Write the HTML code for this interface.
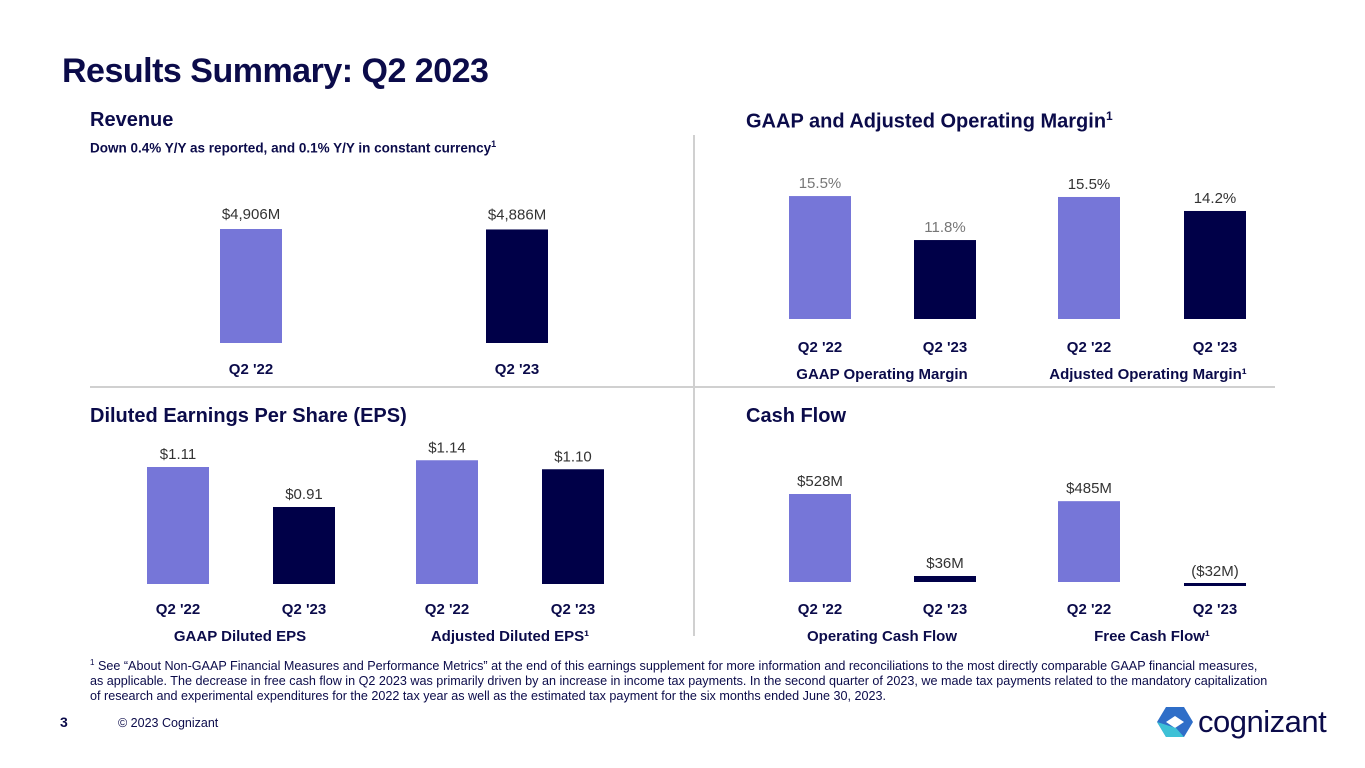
<!DOCTYPE html>
<html><head><meta charset="utf-8">
<style>
body{margin:0;width:1365px;height:768px;background:#fff;font-family:"Liberation Sans",sans-serif;color:#0b0b4a;position:relative;overflow:hidden}
.a{position:absolute;white-space:nowrap}
h1{position:absolute;left:62px;top:52px;margin:0;font-size:34px;font-weight:bold;color:#0b0b4a;letter-spacing:-0.5px}
.st{font-size:20px;font-weight:bold}
.ft{font-size:12.6px;line-height:15px;left:90px;top:655px;white-space:normal;width:1180px}
svg{position:absolute;left:0;top:0}
</style></head><body>
<h1>Results Summary: Q2 2023</h1>
<div class="a st" style="left:90px;top:109px">Revenue</div>
<div class="a" style="left:90px;top:139px;font-size:13.5px;font-weight:bold">Down 0.4% Y/Y as reported, and 0.1% Y/Y in constant currency<sup style="font-size:9px">1</sup></div>
<div class="a st" style="left:746px;top:109px">GAAP and Adjusted Operating Margin<sup style="font-size:12px">1</sup></div>
<div class="a st" style="left:90px;top:405px">Diluted Earnings Per Share (EPS)</div>
<div class="a st" style="left:746px;top:405px">Cash Flow</div>
<div class="a ft"><sup style="font-size:8px">1</sup> See “About Non-GAAP Financial Measures and Performance Metrics” at the end of this earnings supplement for more information and reconciliations to the most directly comparable GAAP financial measures, as applicable. The decrease in free cash flow in Q2 2023 was primarily driven by an increase in income tax payments. In the second quarter of 2023, we made tax payments related to the mandatory capitalization of research and experimental expenditures for the 2022 tax year as well as the estimated tax payment for the six months ended June 30, 2023.</div>
<div class="a" style="left:60px;top:714px;font-size:14px;font-weight:bold">3</div>
<div class="a" style="left:118px;top:716px;font-size:12.5px">© 2023 Cognizant</div>
<div class="a" style="left:1198px;top:704px;font-size:31px;letter-spacing:-0.5px;color:#0b0b4a">cognizant</div>
<svg width="1365" height="768" id="c">
<line x1="90" y1="387" x2="1275" y2="387" stroke="#d0d0d0" stroke-width="2"/>
<line x1="694" y1="135" x2="694" y2="636" stroke="#d0d0d0" stroke-width="2"/>
<g>
<polygon points="1166,707 1184,707 1193,722 1184,737 1166,737 1157,722" fill="#2f6ec8"/>
<polygon points="1166,722 1175,716 1184,722 1175,728" fill="#fff"/>
<polygon points="1157,722 1166,737 1184,737 1176,728" fill="#3ec1d6"/>
</g>
</svg>
<script>
const revCats=["Q2 '22","Q2 '23"];
const revVals=[4906,4886];
const revLabels=["$4,906M","$4,886M"];
const gaapMargin=[15.5,11.8];
const adjMargin=[15.5,14.2];
const gaapEps=[1.11,0.91];
const adjEps=[1.14,1.10];
const opCash=[528,36];
const freeCash=[485,-32];
const gaapMarginLabels=["15.5%","11.8%"];
const adjMarginLabels=["15.5%","14.2%"];
const gaapEpsLabels=["$1.11","$0.91"];
const adjEpsLabels=["$1.14","$1.10"];
const opCashLabels=["$528M","$36M"];
const freeCashLabels=["$485M","($32M)"];
const cats=["Q2 '22","Q2 '23"];
const svg=document.getElementById('c');
const NS='http://www.w3.org/2000/svg';
const colors=['#7676d8','#000048'];
function txt(x,y,s,size,weight,fill,name){const t=document.createElementNS(NS,'text');
t.setAttribute('x',x);t.setAttribute('y',y);t.setAttribute('text-anchor','middle');
t.setAttribute('font-size',size);t.setAttribute('font-weight',weight);t.setAttribute('fill',fill);
t.setAttribute('font-family','Liberation Sans, sans-serif');t.textContent=s;


svg.appendChild(t);}
function chart(vals,labels,xs,base,scale,vmin,catY,labelFill,name,gap){
  vals.forEach((v,i)=>{
    let h=(v-vmin)*scale;
    if(h<0) h=Math.max(h,-3);
    const r=document.createElementNS(NS,'rect');
    const w=62;
    r.setAttribute('x',xs[i]);r.setAttribute('width',w);
    if(h>=0){r.setAttribute('y',base-h);r.setAttribute('height',h);}
    else{r.setAttribute('y',base+1);r.setAttribute('height',-h);}
    r.setAttribute('fill',colors[i]);
    
    
    svg.appendChild(r);
    const ly=h>=0?base-h-gap:base-6;
    txt(xs[i]+w/2,ly,labels[i],15,'normal',labelFill,name+'-value-'+i);
    txt(xs[i]+w/2,catY,cats[i],15,'bold','#0b0b4a',name+'-category-'+i);
  });
}
chart(revVals,revLabels,[220,486],343,114/4906,0,374,'#333','revenue',10);
chart(gaapMargin,gaapMarginLabels,[789,914],319,11.89,5.16,352,'#777','gaap-margin',8);
chart(adjMargin,adjMarginLabels,[1058,1184],319,10.77,4.17,352,'#333','adj-margin',8);
chart(gaapEps,gaapEpsLabels,[147,273],584,200,0.525,614,'#333','gaap-eps',8);
chart(adjEps,adjEpsLabels,[416,542],584,225,0.59,614,'#333','adj-eps',8);
chart(opCash,opCashLabels,[789,914],582,88/528,0,614,'#333','op-cash',8);
chart(freeCash,freeCashLabels,[1058,1184],582,88/528,0,614,'#333','free-cash',8);
txt(882,379,'GAAP Operating Margin',15,'bold','#0b0b4a','gaap-margin-group-label');
txt(1148,379,'Adjusted Operating Margin¹',15,'bold','#0b0b4a','adj-margin-group-label');
txt(240,641,'GAAP Diluted EPS',15,'bold','#0b0b4a','gaap-eps-group-label');
txt(510,641,'Adjusted Diluted EPS¹',15,'bold','#0b0b4a','adj-eps-group-label');
txt(882,641,'Operating Cash Flow',15,'bold','#0b0b4a','op-cash-group-label');
txt(1152,641,'Free Cash Flow¹',15,'bold','#0b0b4a','free-cash-group-label');
</script>
</body></html>
